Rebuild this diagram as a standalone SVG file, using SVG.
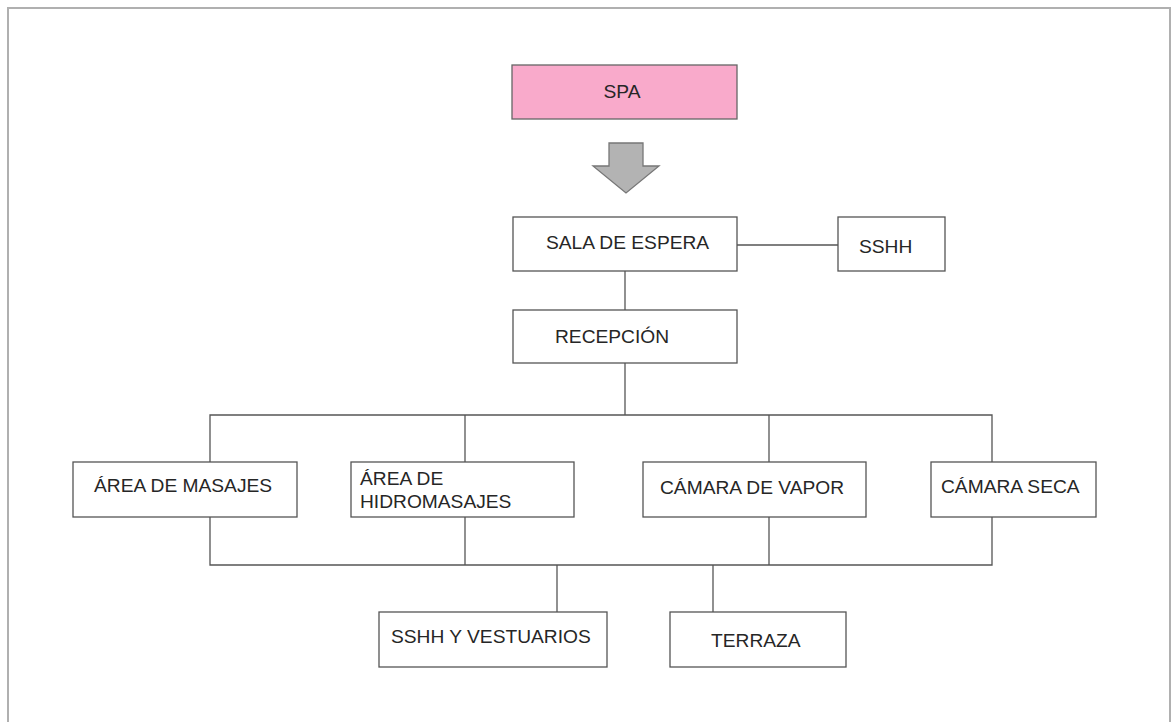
<svg xmlns="http://www.w3.org/2000/svg" width="1172" height="722" viewBox="0 0 1172 722">
<style>
.box{fill:#ffffff;stroke:#555555;stroke-width:1.3}
.pink{fill:#f9aacb;stroke:#666666;stroke-width:1.3}
.t{font-family:"Liberation Sans",Arial,sans-serif;font-size:19.2px;fill:#262626}
.c{text-anchor:middle}
.ln{fill:none;stroke:#555555;stroke-width:1.3}
</style>
<rect x="8" y="8" width="1162" height="740" fill="#ffffff" stroke="#b0b0b0" stroke-width="2"/>
<g id="connectors">
<path class="ln" d="M737 245H838"/>
<path class="ln" d="M625 271V310"/>
<path class="ln" d="M625 363V415"/>
<path class="ln" d="M210 462V415H992V462"/>
<path class="ln" d="M465 415V462"/>
<path class="ln" d="M769 415V462"/>
<path class="ln" d="M210 517V565H992V517"/>
<path class="ln" d="M465 517V565"/>
<path class="ln" d="M769 517V565"/>
<path class="ln" d="M557 565V612"/>
<path class="ln" d="M713 565V612"/>
</g>
<g id="arrow">
<path d="M609 143H643V166H659L626 193L593 166H609Z" fill="#b3b3b3" stroke="#777777" stroke-width="1.3"/>
</g>
<g id="spa">
<rect class="pink" x="512" y="65" width="225" height="54"/>
<text class="t c" x="622" y="98">SPA</text>
</g>
<g id="sala-espera">
<rect class="box" x="513" y="217" width="224" height="54"/>
<text class="t" x="546" y="249">SALA DE ESPERA</text>
</g>
<g id="sshh">
<rect class="box" x="838" y="217" width="107" height="54"/>
<text class="t" x="859" y="253">SSHH</text>
</g>
<g id="recepcion">
<rect class="box" x="513" y="310" width="224" height="53"/>
<text class="t" x="555" y="343">RECEPCIÓN</text>
</g>
<g id="area-masajes">
<rect class="box" x="73" y="462" width="224" height="55"/>
<text class="t" x="94" y="492">ÁREA DE MASAJES</text>
</g>
<g id="area-hidromasajes">
<rect class="box" x="351" y="462" width="223" height="55"/>
<text class="t" x="360" y="485">ÁREA DE</text>
<text class="t" x="360" y="508">HIDROMASAJES</text>
</g>
<g id="camara-vapor">
<rect class="box" x="643" y="462" width="223" height="55"/>
<text class="t" x="660" y="494">CÁMARA DE VAPOR</text>
</g>
<g id="camara-seca">
<rect class="box" x="931" y="462" width="165" height="55"/>
<text class="t" x="941" y="493">CÁMARA SECA</text>
</g>
<g id="sshh-vestuarios">
<rect class="box" x="379" y="612" width="228" height="55"/>
<text class="t" x="391" y="643">SSHH Y VESTUARIOS</text>
</g>
<g id="terraza">
<rect class="box" x="670" y="612" width="176" height="55"/>
<text class="t" x="711" y="647">TERRAZA</text>
</g>
</svg>
